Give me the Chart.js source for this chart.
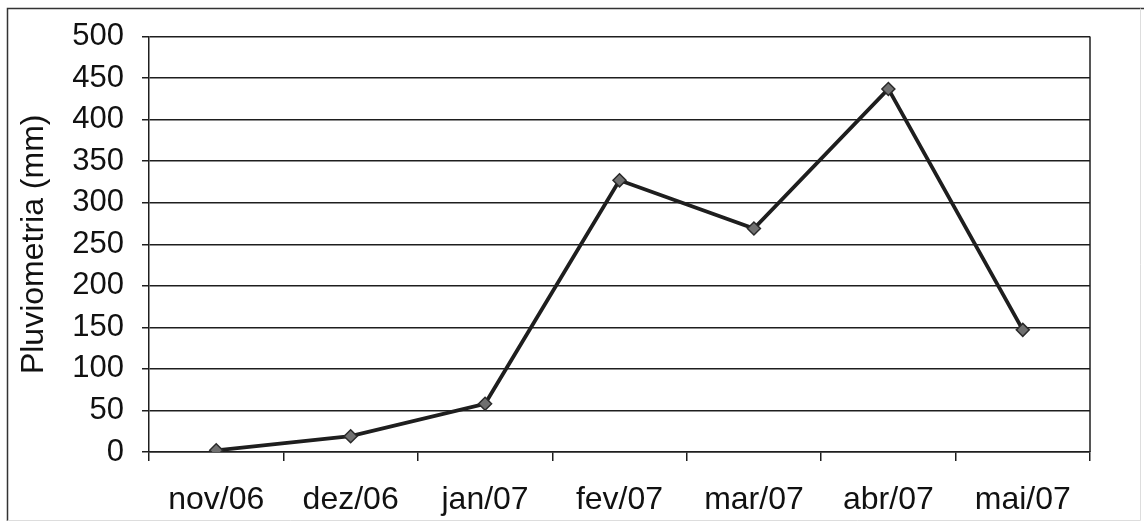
<!DOCTYPE html>
<html>
<head>
<meta charset="utf-8">
<title>Pluviometria</title>
<script src="https://cdn.jsdelivr.net/npm/chart.js@4"></script>
<style>
  html, body { margin: 0; padding: 0; background: #fff; }
  #wrap { width: 1144px; height: 523px; position: relative; }
</style>
</head>
<body>
<div id="wrap"><canvas id="rainChart" width="1144" height="523"></canvas></div>
<script>
// monthly rainfall, nov/2006 - mai/2007
const months = ['nov/06', 'dez/06', 'jan/07', 'fev/07', 'mar/07', 'abr/07', 'mai/07'];
const rainfall = [2, 19, 58, 327, 269, 437, 147];
const yMin = 0;
const yMax = 500;
const yStep = 50;

const ink = '#1e1e1e';
const family = 'Liberation Sans, Arial, sans-serif';

// outer frame + right edge of the plot area
const framePlugin = {
    id: 'frame',
    beforeDraw(chart) {
        const ctx = chart.ctx;
        ctx.save();
        ctx.fillStyle = '#fff';
        ctx.fillRect(0, 0, chart.width, chart.height);
        ctx.lineWidth = 1.5;
        ctx.strokeStyle = '#333';
        ctx.beginPath();
        ctx.moveTo(7.5, 521);
        ctx.lineTo(7.5, 8.5);
        ctx.lineTo(1144, 8.5);
        ctx.stroke();
        ctx.lineWidth = 1;
        ctx.strokeStyle = '#ddd';
        ctx.beginPath();
        ctx.moveTo(7.5, 520.5);
        ctx.lineTo(1140.5, 520.5);
        ctx.lineTo(1140.5, 8.5);
        ctx.stroke();
        ctx.restore();
    },
    afterDatasetsDraw(chart) {
        const a = chart.chartArea;
        const ctx = chart.ctx;
        ctx.save();
        ctx.strokeStyle = ink;
        ctx.lineWidth = 1.5;
        ctx.beginPath();
        ctx.moveTo(a.right, a.top);
        ctx.lineTo(a.right, a.bottom);
        ctx.stroke();
        ctx.restore();
    }
};

const ctx = document.getElementById('rainChart').getContext('2d');
new Chart(ctx, {
    type: 'line',
    data: {
        labels: months,
        datasets: [{
            data: rainfall,
            borderColor: ink,
            borderWidth: 3.8,
            tension: 0,
            pointStyle: 'rectRot',
            pointRadius: 6.5,
            pointBackgroundColor: '#707070',
            pointBorderColor: '#2a2a2a',
            pointBorderWidth: 1.5
        }]
    },
    options: {
        responsive: false,
        animation: false,
        layout: { padding: { left: 0, top: 36, right: 54, bottom: 0 } },
        plugins: {
            legend: { display: false },
            tooltip: { enabled: false }
        },
        scales: {
            x: {
                offset: true,
                afterFit(scale) { scale.height = 71; },
                grid: {
                    offset: true,
                    drawOnChartArea: false,
                    drawTicks: true,
                    tickLength: 9,
                    color: ink,
                    lineWidth: 1.5
                },
                border: { display: true, color: ink, width: 1.5 },
                ticks: { color: '#111', font: { family: family, size: 32 }, padding: 20, maxRotation: 0 }
            },
            y: {
                min: yMin,
                max: yMax,
                afterFit(scale) { scale.width = 149; },
                grid: {
                    color: ink,
                    lineWidth: 1.5,
                    drawTicks: true,
                    tickLength: 7
                },
                border: { display: true, color: ink, width: 1.5 },
                ticks: { stepSize: yStep, color: '#111', font: { family: family, size: 31 }, padding: 18 },
                title: {
                    display: true,
                    text: 'Pluviometria (mm)',
                    color: '#111',
                    font: { family: family, size: 32 },
                    padding: { top: 15, bottom: 0 }
                }
            }
        }
    },
    plugins: [framePlugin]
});
</script>
</body>
</html>
